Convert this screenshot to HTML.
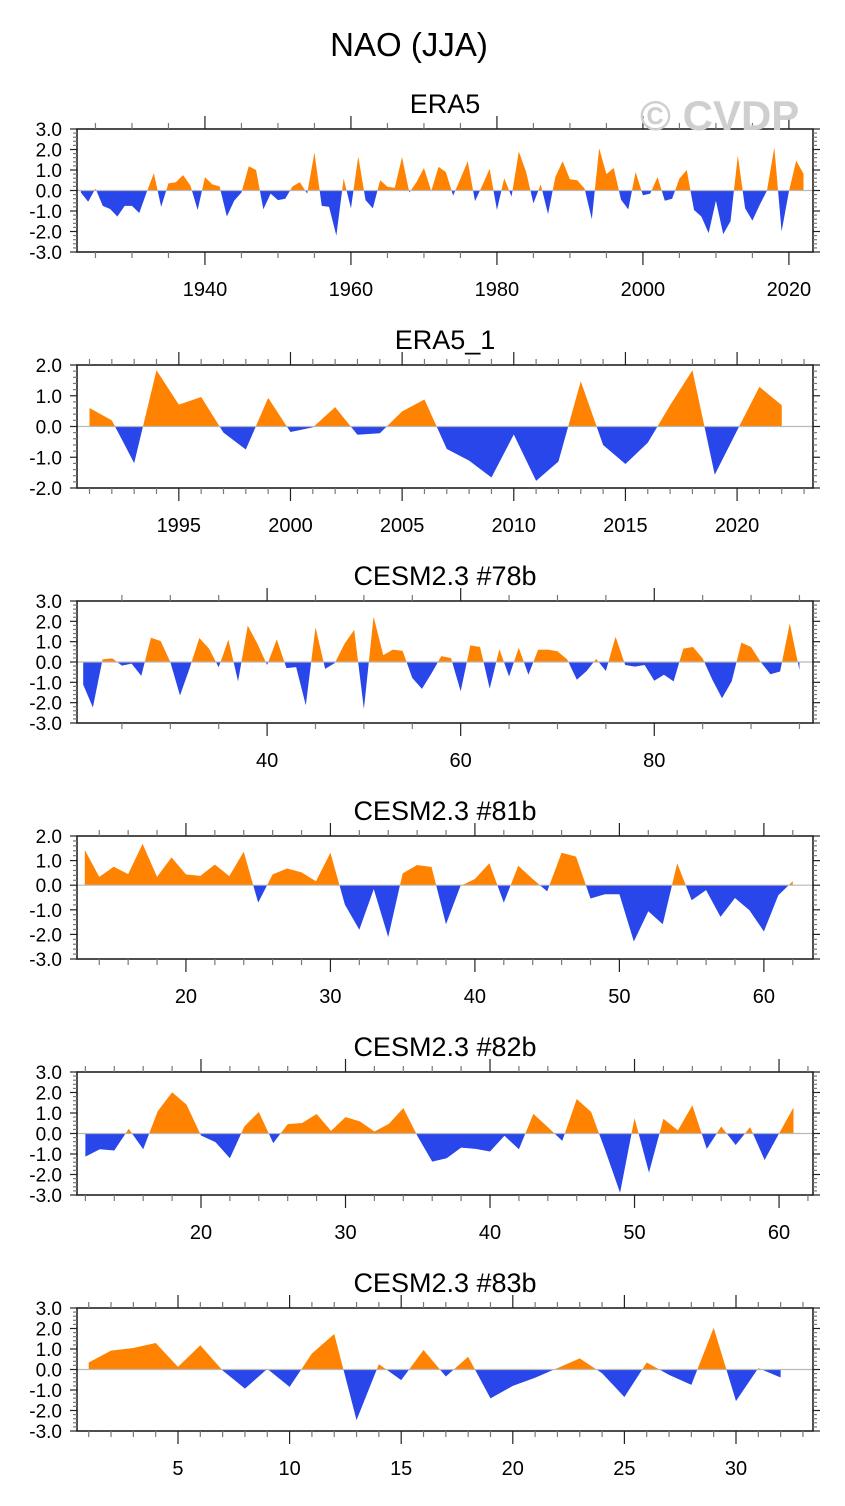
<!DOCTYPE html>
<html><head><meta charset="utf-8"><title>NAO (JJA)</title>
<style>
html,body{margin:0;padding:0;background:#fff;}
svg{display:block;font-family:"Liberation Sans",Arial,sans-serif;}
</style></head>
<body>
<svg id="chart" width="845" height="1506" viewBox="0 0 845 1506" xmlns="http://www.w3.org/2000/svg">
<text x="409" y="56" text-anchor="middle" font-size="33">NAO (JJA)</text>
</svg>
<script>
// ---- data ----
const era5Start = 1923;
const era5Vals = [-0.1,-0.55,0.1,-0.75,-0.9,-1.27,-0.75,-0.75,-1.1,-0.1,
0.85,-0.8,0.35,0.4,0.75,0.25,-0.95,0.65,0.3,0.2,
-1.27,-0.5,-0.1,1.18,1.0,-0.92,-0.15,-0.47,-0.4,0.2,
0.4,-0.15,1.85,-0.75,-0.8,-2.2,0.58,-0.87,1.66,-0.47,
-0.87,0.5,0.18,0.13,1.63,-0.1,0.42,1.1,-0.03,1.15,
0.9,-0.25,0.58,1.42,-0.52,0.25,1.06,-0.95,0.6,-0.3,
1.9,0.9,-0.63,0.3,-1.15,0.65,1.43,0.55,0.5,0.1,
-1.4,2.06,0.8,1.1,-0.45,-0.92,0.9,-0.23,-0.15,0.65,
-0.5,-0.4,0.58,1.0,-0.95,-1.27,-2.08,-0.5,-2.13,-1.5,
1.7,-0.87,-1.47,-0.7,0.0,2.1,-2.0,-0.05,1.46,0.82];
const era5_1Start = 1991;
const era5_1Vals = [0.6,0.2,-1.19,1.83,0.71,0.96,-0.2,-0.75,0.93,-0.18,
-0.03,0.63,-0.27,-0.22,0.49,0.88,-0.73,-1.11,-1.66,-0.26,
-1.77,-1.14,1.47,-0.6,-1.22,-0.53,0.69,1.83,-1.57,-0.13,1.29,0.69];
const c78Start = 21;
const c78Vals = [-1.11,-2.24,0.13,0.18,-0.18,-0.08,-0.68,1.19,1.03,0.0,
-1.65,-0.3,1.18,0.66,-0.26,1.1,-0.95,1.79,0.9,-0.15,
1.11,-0.3,-0.25,-2.13,1.71,-0.34,-0.05,0.9,1.58,-2.32,
2.23,0.34,0.61,0.55,-0.79,-1.32,-0.55,0.29,0.19,-1.44,
0.82,0.74,-1.31,0.63,-0.71,0.7,-0.63,0.6,0.61,0.53,
0.13,-0.87,-0.45,0.15,-0.44,1.24,-0.15,-0.23,-0.15,-0.92,
-0.63,-0.95,0.66,0.74,0.18,-0.87,-1.78,-0.95,0.95,0.74,
0.0,-0.6,-0.47,1.9,-0.4];
const c81Start = 13;
const c81Vals = [1.43,0.34,0.75,0.45,1.68,0.34,1.13,0.44,0.38,0.84,
0.37,1.36,-0.71,0.44,0.68,0.52,0.16,1.32,-0.79,-1.81,
-0.16,-2.11,0.48,0.82,0.74,-1.59,-0.03,0.25,0.89,-0.71,
0.79,0.25,-0.25,1.32,1.16,-0.54,-0.37,-0.37,-2.29,-1.06,
-1.59,0.89,-0.61,-0.2,-1.29,-0.52,-1.02,-1.88,-0.41,0.16];
const c82Start = 12;
const c82Vals = [-1.13,-0.77,-0.83,0.23,-0.77,1.08,2.01,1.41,-0.1,-0.42,
-1.21,0.34,1.05,-0.47,0.46,0.51,0.95,0.13,0.8,0.59,
0.1,0.47,1.24,-0.15,-1.37,-1.21,-0.69,-0.75,-0.88,-0.11,
-0.77,0.96,0.31,-0.36,1.68,1.05,-0.88,-2.89,0.75,-1.91,
0.72,0.15,1.37,-0.75,0.34,-0.56,0.31,-1.29,0.0,1.27];
const c83Start = 1;
const c83Vals = [0.34,0.92,1.05,1.29,0.13,1.18,-0.05,-0.93,0.03,-0.85,
0.78,1.73,-2.47,0.26,-0.52,0.95,-0.34,0.62,-1.41,-0.8,
-0.4,0.07,0.54,-0.18,-1.34,0.34,-0.26,-0.75,2.03,-1.54,0.07,-0.39];

// ---- layout ----
const NS = "http://www.w3.org/2000/svg";
const svg = document.getElementById('chart');
const BL = 77, BR = 813;
const panels = [
 {key:'era5', title:'ERA5', top:129, bot:252, ymin:-3, ymax:3, xmin:1922.47, xmax:2023.3, xmaj:20, xmin2:5, start:era5Start, vals:era5Vals},
 {key:'era5-1', title:'ERA5_1', top:365, bot:488, ymin:-2, ymax:2, xmin:1990.44, xmax:2023.4, xmaj:5, xmin2:1, start:era5_1Start, vals:era5_1Vals},
 {key:'cesm-78b', title:'CESM2.3 #78b', top:601, bot:723, ymin:-3, ymax:3, xmin:20.36, xmax:96.4, xmaj:20, xmin2:5, start:c78Start, vals:c78Vals},
 {key:'cesm-81b', title:'CESM2.3 #81b', top:836, bot:959, ymin:-3, ymax:2, xmin:12.46, xmax:63.4, xmaj:10, xmin2:2, start:c81Start, vals:c81Vals},
 {key:'cesm-82b', title:'CESM2.3 #82b', top:1072, bot:1195, ymin:-3, ymax:3, xmin:11.42, xmax:62.35, xmaj:10, xmin2:2, start:c82Start, vals:c82Vals},
 {key:'cesm-83b', title:'CESM2.3 #83b', top:1308, bot:1431, ymin:-3, ymax:3, xmin:0.475, xmax:33.45, xmaj:5, xmin2:1, start:c83Start, vals:c83Vals}
];
function el(tag, attrs, parent){
  const e = document.createElementNS(NS, tag);
  for (const k in attrs) e.setAttribute(k, attrs[k]);
  (parent||svg).appendChild(e);
  return e;
}
panels.forEach((p, pi) => {
  const g = el('g', {});
  
  
  const xs = v => BL + (v - p.xmin) / (p.xmax - p.xmin) * (BR - BL);
  const ys = v => p.bot - (v - p.ymin) / (p.ymax - p.ymin) * (p.bot - p.top);
  const y0 = ys(0);
  const t = el('text', {x:(BL+BR)/2, y:p.top-16, 'text-anchor':'middle', 'font-size':27}, g);
  t.textContent = p.title;
  
  
  const defs = el('defs', {}, g);
  const cpU = el('clipPath', {id:'up'+pi}, defs);
  el('rect', {x:BL, y:p.top, width:BR-BL, height:y0-p.top}, cpU);
  const cpD = el('clipPath', {id:'dn'+pi}, defs);
  el('rect', {x:BL, y:y0, width:BR-BL, height:p.bot-y0}, cpD);
  let pts = [];
  p.vals.forEach((v, i) => pts.push(xs(p.start + i).toFixed(2) + ',' + ys(v).toFixed(2)));
  const xFirst = xs(p.start), xLast = xs(p.start + p.vals.length - 1);
  const poly = xFirst.toFixed(2) + ',' + y0 + ' ' + pts.join(' ') + ' ' + xLast.toFixed(2) + ',' + y0;
  const pos = el('polygon', {points:poly, fill:'#ff8200', 'clip-path':'url(#up'+pi+')'}, g);
  
  
  const neg = el('polygon', {points:poly, fill:'#2946ea', 'clip-path':'url(#dn'+pi+')'}, g);
  
  
  const zl = el('line', {x1:BL, x2:BR, y1:y0, y2:y0, stroke:'#b8b8b8', 'stroke-width':1.2}, g);
  
  
  const box = el('rect', {x:BL, y:p.top, width:BR-BL, height:p.bot-p.top, fill:'none', stroke:'#222', 'stroke-width':1.6}, g);
  
  
  for (let k = Math.round(p.ymin*5); k <= Math.round(p.ymax*5); k++) {
    const v = k/5, y = ys(v), major = (k % 5 === 0);
    const len = major ? 7 : 4;
    el('line', {x1:BL-len, x2:BL, y1:y, y2:y, stroke: major?'#222':'#777', 'stroke-width':1.2}, g);
    el('line', {x1:BR, x2:BR+len, y1:y, y2:y, stroke: major?'#222':'#777', 'stroke-width':1.2}, g);
    if (major) {
      const lt = el('text', {x:62, y:y+7, 'text-anchor':'end', 'font-size':19}, g);
      lt.textContent = v.toFixed(1);
      
      
    }
  }
  for (let v = Math.ceil(p.xmin/p.xmin2)*p.xmin2; v <= p.xmax; v += p.xmin2) {
    const x = xs(v), major = (Math.abs(v % p.xmaj) < 1e-6);
    const len = major ? 13 : 6;
    el('line', {x1:x, x2:x, y1:p.bot, y2:p.bot+len, stroke: major?'#222':'#777', 'stroke-width':1.2}, g);
    el('line', {x1:x, x2:x, y1:p.top-len, y2:p.top, stroke: major?'#222':'#777', 'stroke-width':1.2}, g);
    if (major) {
      const xt = el('text', {x:x, y:p.bot+44, 'text-anchor':'middle', 'font-size':20}, g);
      xt.textContent = String(v);
      
      
    }
  }
});
const wm = el('text', {x:640, y:130, 'font-size':42, 'font-weight':'bold', fill:'#cfcfcf'});
wm.textContent = '\u00A9 CVDP';


</script>
</body></html>
